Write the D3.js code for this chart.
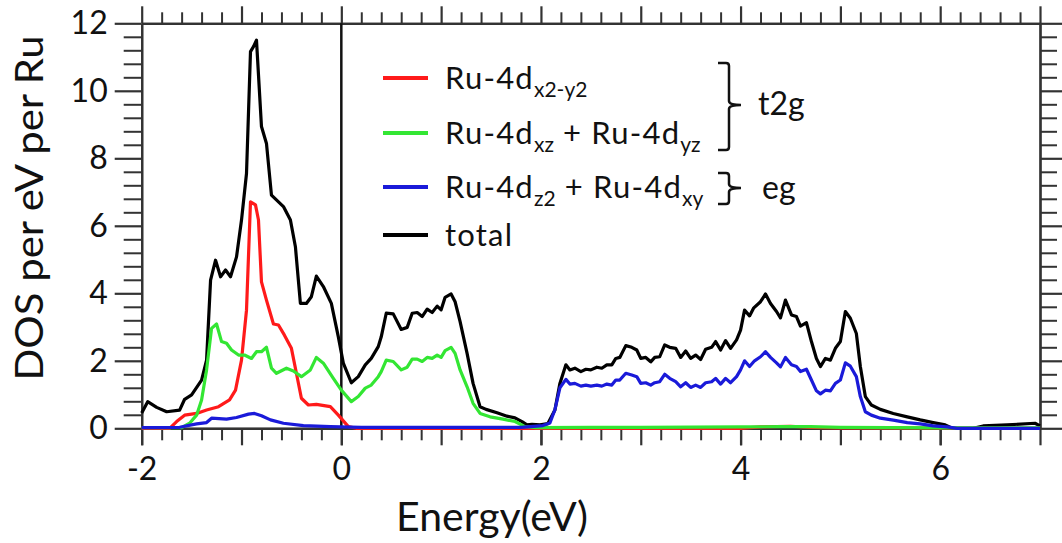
<!DOCTYPE html>
<html>
<head>
<meta charset="utf-8">
<script src="https://cdn.jsdelivr.net/npm/d3@7"></script>
<style>
  html, body { margin: 0; padding: 0; background: #fff; }
  svg { display: block; }
  text { font-family: Lato, "Open Sans", sans-serif; fill: #111; }
</style>
</head>
<body>
<svg id="chart" width="1062" height="543"></svg>
<script>
// ---- data (Energy in eV, DOS per eV per Ru) ----
const totalDOS = [
[-2.00,0.45],[-1.94,0.79],[-1.85,0.62],[-1.75,0.49],[-1.62,0.54],[-1.57,0.86],[-1.50,0.99],[-1.40,1.43],[-1.35,2.02],[-1.31,4.39],[-1.26,4.98],[-1.21,4.49],[-1.16,4.69],[-1.11,4.49],[-1.05,5.08],[-1.00,6.17],[-0.95,7.55],[-0.91,11.16],[-0.88,11.31],[-0.85,11.5],[-0.80,8.94],[-0.75,8.44],[-0.70,6.91],[-0.58,6.57],[-0.51,6.17],[-0.46,5.38],[-0.41,3.70],[-0.35,3.70],[-0.30,3.90],[-0.25,4.51],[-0.18,4.20],[-0.10,3.70],[-0.03,2.71],[0.02,1.93],[0.10,1.35],[0.17,1.53],[0.24,1.88],[0.30,2.07],[0.37,2.42],[0.40,2.71],[0.45,3.41],[0.52,3.39],[0.60,2.93],[0.66,2.99],[0.71,3.41],[0.76,3.43],[0.81,3.31],[0.86,3.53],[0.91,3.43],[0.96,3.62],[1.00,3.51],[1.04,3.88],[1.10,3.98],[1.14,3.75],[1.19,3.16],[1.26,2.22],[1.32,1.33],[1.39,0.64],[1.45,0.56],[1.56,0.46],[1.66,0.36],[1.74,0.31],[1.81,0.20],[1.86,0.10],[1.91,0.12],[1.99,0.10],[2.07,0.14],[2.14,0.54],[2.19,1.33],[2.25,1.88],[2.29,1.73],[2.34,1.78],[2.40,1.68],[2.45,1.75],[2.50,1.73],[2.56,1.81],[2.61,1.78],[2.66,1.88],[2.71,1.88],[2.75,2.07],[2.79,2.10],[2.85,2.45],[2.91,2.40],[2.96,2.32],[3.00,2.07],[3.05,2.10],[3.10,1.97],[3.14,2.10],[3.19,2.12],[3.24,2.47],[3.29,2.40],[3.35,2.37],[3.40,2.10],[3.45,2.29],[3.50,2.07],[3.55,2.17],[3.60,2.04],[3.65,2.34],[3.71,2.40],[3.75,2.57],[3.80,2.32],[3.85,2.60],[3.90,2.37],[3.96,2.62],[4.00,2.91],[4.04,3.50],[4.09,3.33],[4.13,3.56],[4.20,3.75],[4.25,3.98],[4.30,3.70],[4.36,3.46],[4.40,3.27],[4.45,3.80],[4.51,3.36],[4.56,3.31],[4.60,3.03],[4.66,3.13],[4.71,2.57],[4.76,2.07],[4.80,1.83],[4.85,2.07],[4.90,2.02],[4.95,2.37],[5.00,2.57],[5.05,3.46],[5.10,3.26],[5.16,2.81],[5.20,1.83],[5.25,0.94],[5.31,0.69],[5.40,0.56],[5.53,0.44],[5.67,0.34],[5.80,0.25],[5.93,0.17],[6.05,0.10],[6.12,0.00],[6.33,0.00],[6.43,0.07],[6.67,0.10],[6.95,0.15],[7.00,0.07]
];
const dx2y2DOS = [
[-2.00,0],[-1.72,0],[-1.65,0.20],[-1.57,0.39],[-1.45,0.44],[-1.35,0.54],[-1.23,0.64],[-1.12,0.84],[-1.06,1.13],[-1.00,2.02],[-0.95,3.50],[-0.91,6.71],[-0.86,6.62],[-0.83,6.17],[-0.80,4.34],[-0.75,3.80],[-0.68,3.09],[-0.63,3.06],[-0.57,2.76],[-0.50,2.37],[-0.45,1.63],[-0.40,0.89],[-0.33,0.69],[-0.25,0.71],[-0.11,0.64],[-0.03,0.39],[0.07,0.05],[0.15,0],[4.00,0],[4.20,0.04],[4.50,0.06],[4.70,0.03],[5.00,0.01],[7.00,0]
];
const dxzyzDOS = [
[-2.00,0.02],[-1.60,0.02],[-1.52,0.15],[-1.45,0.39],[-1.40,0.84],[-1.35,1.73],[-1.30,2.96],[-1.25,3.09],[-1.20,2.57],[-1.15,2.52],[-1.10,2.32],[-1.03,2.17],[-0.97,2.17],[-0.90,2.07],[-0.85,2.27],[-0.80,2.27],[-0.75,2.40],[-0.70,1.78],[-0.65,1.63],[-0.55,1.78],[-0.48,1.70],[-0.40,1.53],[-0.31,1.73],[-0.25,2.10],[-0.18,1.93],[-0.08,1.48],[0.00,1.13],[0.10,0.79],[0.17,0.94],[0.24,1.19],[0.30,1.28],[0.37,1.53],[0.40,1.68],[0.45,2.02],[0.52,1.98],[0.60,1.73],[0.66,1.81],[0.71,2.05],[0.76,2.05],[0.81,1.98],[0.86,2.10],[0.91,2.07],[0.96,2.17],[1.00,2.10],[1.04,2.30],[1.10,2.40],[1.14,2.22],[1.19,1.73],[1.26,1.23],[1.32,0.74],[1.39,0.44],[1.49,0.34],[1.62,0.27],[1.74,0.20],[1.84,0.05],[1.95,0.02],[2.50,0.03],[3.00,0.03],[4.00,0.04],[4.40,0.05],[4.70,0.05],[5.00,0.03],[5.50,0.02],[6.00,0.01],[7.00,0.01]
];
const dz2xyDOS = [
[-2.00,0.02],[-1.62,0.03],[-1.45,0.13],[-1.35,0.17],[-1.30,0.30],[-1.15,0.27],[-1.05,0.32],[-0.93,0.42],[-0.87,0.44],[-0.80,0.37],[-0.71,0.25],[-0.58,0.15],[-0.38,0.08],[-0.11,0.05],[0.20,0.03],[1.00,0.03],[1.80,0.03],[2.02,0.08],[2.09,0.16],[2.14,0.55],[2.19,1.20],[2.25,1.45],[2.29,1.31],[2.34,1.33],[2.40,1.25],[2.45,1.28],[2.50,1.25],[2.56,1.28],[2.61,1.25],[2.66,1.31],[2.71,1.28],[2.75,1.43],[2.79,1.43],[2.85,1.63],[2.91,1.58],[2.96,1.53],[3.00,1.33],[3.05,1.35],[3.10,1.28],[3.14,1.35],[3.19,1.38],[3.24,1.60],[3.29,1.48],[3.35,1.38],[3.40,1.23],[3.45,1.35],[3.50,1.21],[3.55,1.28],[3.60,1.21],[3.65,1.35],[3.71,1.38],[3.75,1.48],[3.80,1.31],[3.85,1.48],[3.90,1.35],[3.96,1.53],[4.00,1.73],[4.04,2.00],[4.09,1.83],[4.14,2.00],[4.20,2.12],[4.25,2.27],[4.30,2.10],[4.36,1.94],[4.40,1.82],[4.45,2.10],[4.51,1.88],[4.56,1.83],[4.60,1.68],[4.66,1.75],[4.71,1.43],[4.76,1.11],[4.80,1.02],[4.85,1.13],[4.90,1.11],[4.95,1.33],[5.00,1.43],[5.05,1.94],[5.10,1.84],[5.16,1.53],[5.20,0.94],[5.25,0.49],[5.31,0.39],[5.40,0.30],[5.53,0.24],[5.67,0.17],[5.80,0.13],[5.93,0.07],[6.07,0.04],[6.17,0.00],[7.00,0.00]
];
const xMajorTicks = [-2, 0, 2, 4, 6];
const xIntTicks = [-2, -1, 0, 1, 2, 3, 4, 5, 6, 7];
const yMajorTicks = [0, 2, 4, 6, 8, 10, 12];
const xLabel = "Energy(eV)";
const yLabel = "DOS per eV per Ru";

// ---- scales ----
const svg = d3.select("#chart");
const x = d3.scaleLinear().domain([-2, 7]).range([141.7, 1040]);
const y = d3.scaleLinear().domain([0, 12]).range([428.3, 23.3]);

const xMinor = d3.range(-2, 7.001, 0.2).map(v => +v.toFixed(2)).filter(v => Math.abs(v - Math.round(v)) > 1e-6);
const yMinor = d3.range(0, 12.001, 0.4).map(v => +v.toFixed(2)).filter(v => Math.abs(v / 2 - Math.round(v / 2)) > 1e-6);

const axisColor = "#333";
function styleAxis(g, sw) {
  g.select(".domain").attr("stroke", axisColor).attr("stroke-width", 2.2);
  g.selectAll(".tick line").attr("stroke", axisColor).attr("stroke-width", sw);
  g.selectAll(".tick text").style("font-family", "Lato, 'Open Sans', sans-serif").style("font-size", "32px").attr("fill", "#111");
}

// bottom axis
svg.append("g").attr("transform", `translate(0,${y(0)})`)
  .call(d3.axisBottom(x).tickValues(xMinor).tickSize(12).tickSizeOuter(0).tickFormat(""))
  .call(g => styleAxis(g, 2));
svg.append("g").attr("transform", `translate(0,${y(0)})`)
  .call(d3.axisBottom(x).tickValues(xIntTicks).tickSize(17).tickSizeOuter(0).tickFormat(""))
  .call(g => styleAxis(g, 2.2));
svg.append("g").attr("transform", `translate(0,${y(0)})`)
  .call(d3.axisBottom(x).tickValues(xMajorTicks).tickSize(17).tickPadding(12).tickSizeOuter(0).tickFormat(d3.format("d")))
  .call(g => styleAxis(g, 2.2))
  .call(g => g.selectAll(".tick text").text(d => d < 0 ? "-" + Math.abs(d) : d));

// top axis
svg.append("g").attr("transform", `translate(0,${y(12)})`)
  .call(d3.axisTop(x).tickValues(xMinor).tickSize(11).tickSizeOuter(0).tickFormat(""))
  .call(g => styleAxis(g, 2));
svg.append("g").attr("transform", `translate(0,${y(12)})`)
  .call(d3.axisTop(x).tickValues(xIntTicks).tickSize(17).tickSizeOuter(0).tickFormat(""))
  .call(g => styleAxis(g, 2.2));

// left axis
svg.append("g").attr("transform", `translate(${x(-2)},0)`)
  .call(d3.axisLeft(y).tickValues(yMinor).tickSize(18).tickSizeOuter(0).tickFormat(""))
  .call(g => styleAxis(g, 2));
svg.append("g").attr("transform", `translate(${x(-2)},0)`)
  .call(d3.axisLeft(y).tickValues(yMajorTicks).tickSize(27).tickPadding(7).tickSizeOuter(0).tickFormat(d3.format("d")))
  .call(g => styleAxis(g, 2.2));

// right axis
svg.append("g").attr("transform", `translate(${x(7)},0)`)
  .call(d3.axisRight(y).tickValues(yMinor).tickSize(17).tickSizeOuter(0).tickFormat(""))
  .call(g => styleAxis(g, 2));
svg.append("g").attr("transform", `translate(${x(7)},0)`)
  .call(d3.axisRight(y).tickValues(yMajorTicks).tickSize(25).tickSizeOuter(0).tickFormat(""))
  .call(g => styleAxis(g, 2.2));

// Fermi level line
svg.append("line")
  .attr("x1", x(0)).attr("x2", x(0)).attr("y1", y(12)).attr("y2", y(0))
  .attr("stroke", "#111").attr("stroke-width", 2.5);

// ---- curves ----
const line = d3.line().x(d => x(d[0])).y(d => y(d[1]));
const series = [
  { data: totalDOS, color: "#000000" },
  { data: dx2y2DOS, color: "#ff1a1a" },
  { data: dxzyzDOS, color: "#33e633" },
  { data: dz2xyDOS, color: "#1a1ad9" }
];
svg.append("g").selectAll("path").data(series).join("path")
  .attr("d", d => line(d.data))
  .attr("fill", "none")
  .attr("stroke", d => d.color)
  .attr("stroke-width", 3.2)
  .attr("stroke-linejoin", "round");

// ---- axis titles ----
svg.append("text")
  .attr("x", 492).attr("y", 531)
  .attr("text-anchor", "middle")
  .style("font-size", "41px")
  .text(xLabel);

svg.append("text")
  .attr("transform", "translate(43,208) rotate(-90)")
  .attr("text-anchor", "middle")
  .attr("textLength", 345).attr("lengthAdjust", "spacingAndGlyphs")
  .style("font-size", "39px")
  .text(yLabel);

// ---- legend ----
const legendRows = [
  { color: "#ff1a1a", parts: [["Ru-4d", false], ["x2-y2", true]] },
  { color: "#33e633", parts: [["Ru-4d", false], ["xz", true], [" + Ru-4d", false], ["yz", true]] },
  { color: "#1a1ad9", parts: [["Ru-4d", false], ["z2", true], [" + Ru-4d", false], ["xy", true]] },
  { color: "#000000", parts: [["total", false]] }
];
const legendY = [78, 133, 187, 235];
const lg = svg.append("g");
legendRows.forEach((row, i) => {
  const ly = legendY[i];
  lg.append("line").attr("x1", 383).attr("x2", 428).attr("y1", ly).attr("y2", ly)
    .attr("stroke", row.color).attr("stroke-width", 4);
  const t = lg.append("text").attr("x", 445).attr("y", ly + 11).style("font-size", "31px");
  let sub = false;
  row.parts.forEach(([s, isSub]) => {
    const ts = t.append("tspan").text(s);
    if (isSub && !sub) { ts.attr("dy", 8).style("font-size", "21px"); sub = true; }
    else if (!isSub && sub) { ts.attr("dy", -8); sub = false; }
    if (!isSub) ts.style("letter-spacing", "1.2px");
  });
});

// braces
function brace(top, bottom, mid) {
  const xl = 718, xv = 729, xp = 741;
  return `M${xl},${top} L${xv - 3},${top} Q${xv},${top} ${xv},${top + 3} L${xv},${mid - 4} Q${xv},${mid} ${xp},${mid} Q${xv},${mid} ${xv},${mid + 4} L${xv},${bottom - 3} Q${xv},${bottom} ${xv - 3},${bottom} L${xl},${bottom}`;
}
lg.append("path").attr("d", brace(63, 150, 105)).attr("fill", "none").attr("stroke", "#111").attr("stroke-width", 2.5);
lg.append("path").attr("d", brace(173, 204, 188)).attr("fill", "none").attr("stroke", "#111").attr("stroke-width", 2.5);
lg.append("text").attr("x", 758).attr("y", 115).style("font-size", "32px").text("t2g");
lg.append("text").attr("x", 762).attr("y", 199).style("font-size", "32px").text("eg");
</script>
</body>
</html>
